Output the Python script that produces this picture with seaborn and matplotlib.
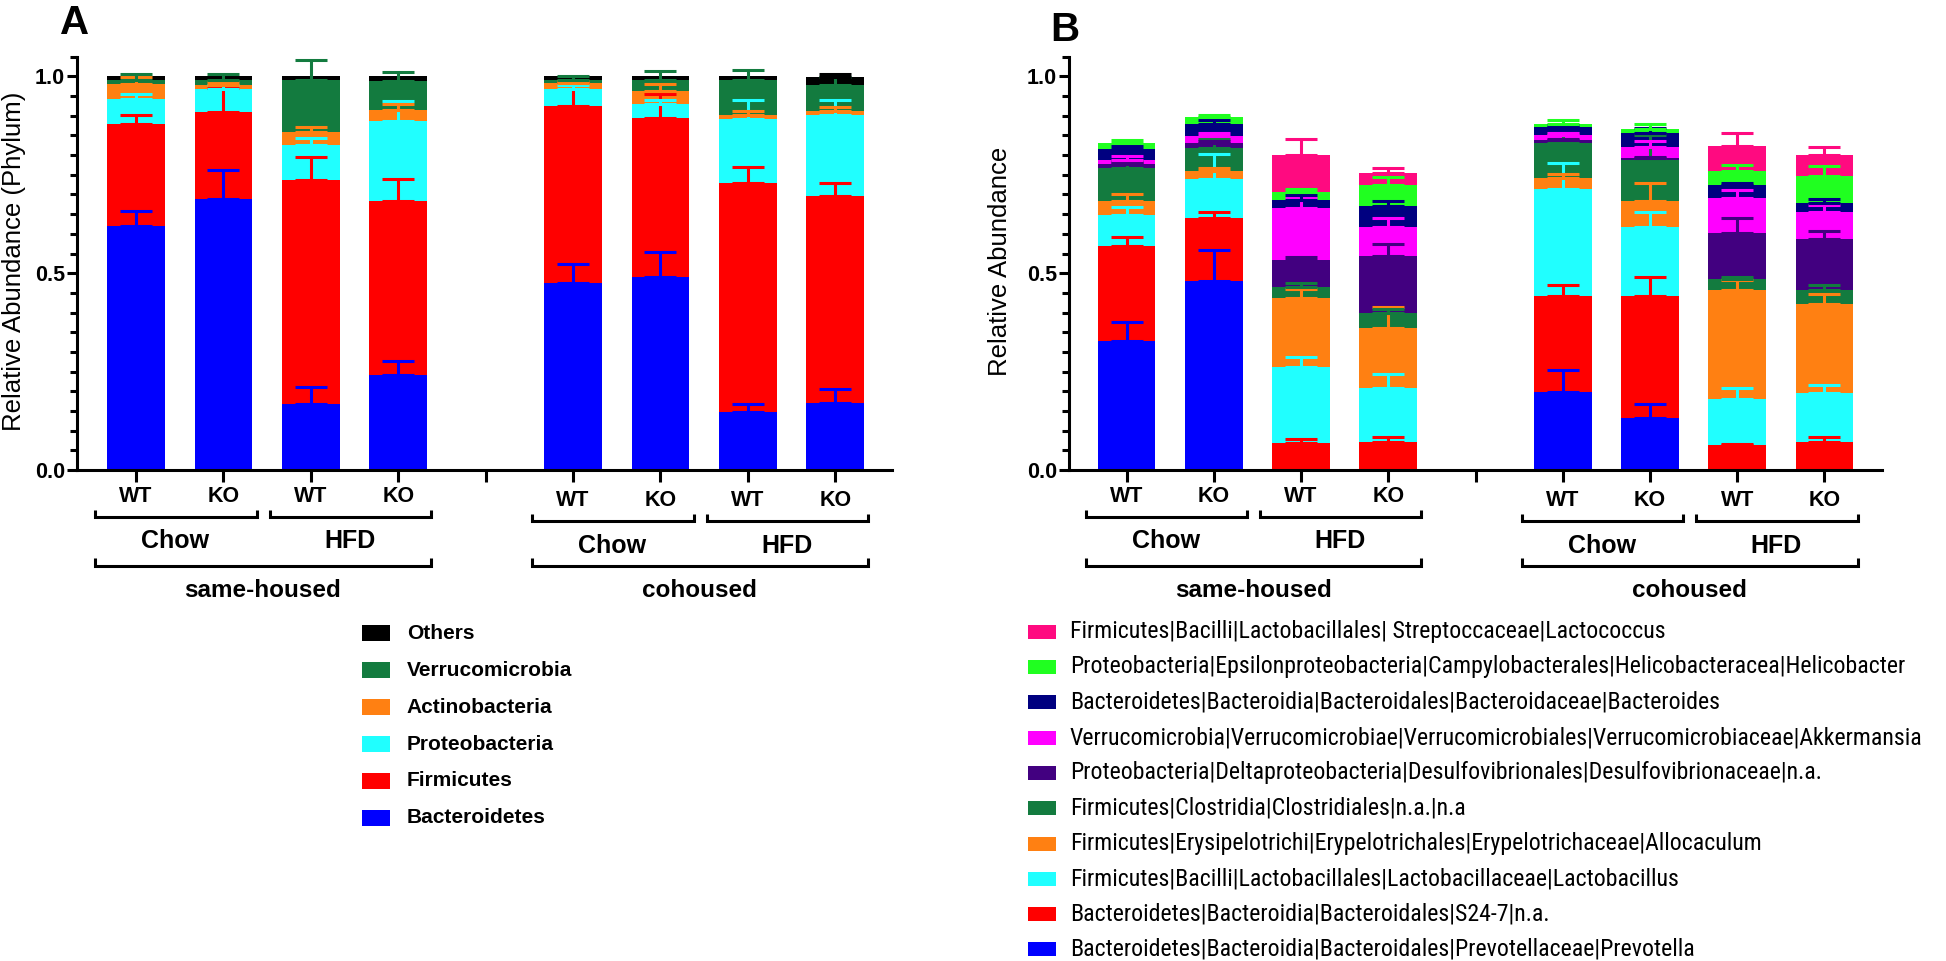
import numpy as np
import pandas as pd
import matplotlib
matplotlib.use("Agg")
import matplotlib.pyplot as plt
import seaborn as sns
from matplotlib.patches import Rectangle
from matplotlib.lines import Line2D
from matplotlib.ticker import MultipleLocator
from matplotlib import font_manager
from matplotlib.font_manager import FontProperties

# ---------------- data ----------------
bar_ids = ["sh_chow_wt", "sh_chow_ko", "sh_hfd_wt", "sh_hfd_ko",
           "co_chow_wt", "co_chow_ko", "co_hfd_wt", "co_hfd_ko"]
genotypes = ["WT", "KO", "WT", "KO", "WT", "KO", "WT", "KO"]
diets = ["Chow", "HFD", "Chow", "HFD"]
housing = ["same-housed", "cohoused"]

# Panel A (phylum), bottom -> top
phyla = ["Bacteroidetes", "Firmicutes", "Proteobacteria", "Actinobacteria",
         "Verrucomicrobia", "Others"]
phyla_colors = ["#0000FF", "#FF0000", "#20FFFF", "#FF8012", "#137B3F", "#000000"]
bacteroidetes = [0.621, 0.689, 0.168, 0.242, 0.475, 0.491, 0.148, 0.171]
firmicutes    = [0.257, 0.221, 0.568, 0.442, 0.451, 0.403, 0.581, 0.525]
proteobact    = [0.065, 0.057, 0.089, 0.202, 0.041, 0.037, 0.162, 0.206]
actinobact    = [0.037, 0.012, 0.033, 0.028, 0.015, 0.032, 0.011, 0.011]
verrucomic    = [0.012, 0.013, 0.134, 0.074, 0.010, 0.029, 0.088, 0.065]
others        = [0.008, 0.008, 0.008, 0.012, 0.008, 0.008, 0.010, 0.020]
bacteroidetes_err = [0.036, 0.073, 0.044, 0.036, 0.049, 0.064, 0.020, 0.035]
firmicutes_err    = [0.025, 0.061, 0.058, 0.056, 0.059, 0.061, 0.040, 0.033]
proteobact_err    = [0.013, 0.012, 0.019, 0.051, 0.010, 0.008, 0.050, 0.039]
actinobact_err    = [0.019, 0.006, 0.013, 0.016, 0.005, 0.017, 0.010, 0.008]
verrucomic_err    = [0.014, 0.014, 0.049, 0.023, 0.010, 0.021, 0.026, 0.021]
others_err        = [0.000, 0.000, 0.000, 0.000, 0.000, 0.000, 0.000, 0.008]

# Panel B (genus), bottom -> top
genera = ["Bacteroidetes|Bacteroidia|Bacteroidales|Prevotellaceae|Prevotella",
          "Bacteroidetes|Bacteroidia|Bacteroidales|S24-7|n.a.",
          "Firmicutes|Bacilli|Lactobacillales|Lactobacillaceae|Lactobacillus",
          "Firmicutes|Erysipelotrichi|Erypelotrichales|Erypelotrichaceae|Allocaculum",
          "Firmicutes|Clostridia|Clostridiales|n.a.|n.a",
          "Proteobacteria|Deltaproteobacteria|Desulfovibrionales|Desulfovibrionaceae|n.a.",
          "Verrucomicrobia|Verrucomicrobiae|Verrucomicrobiales|Verrucomicrobiaceae|Akkermansia",
          "Bacteroidetes|Bacteroidia|Bacteroidales|Bacteroidaceae|Bacteroides",
          "Proteobacteria|Epsilonproteobacteria|Campylobacterales|Helicobacteracea|Helicobacter",
          "Firmicutes|Bacilli|Lactobacillales| Streptoccaceae|Lactococcus"]
genera_colors = ["#0000FF", "#FF0000", "#20FFFF", "#FF8012", "#137B3F",
                 "#420080", "#FF00FF", "#000080", "#20FF20", "#FF0A80"]
prevotella    = [0.328, 0.480, 0.000, 0.000, 0.199, 0.131, 0.000, 0.000]
s24_7         = [0.241, 0.161, 0.068, 0.070, 0.243, 0.311, 0.063, 0.070]
lactobacillus = [0.078, 0.098, 0.193, 0.139, 0.273, 0.176, 0.117, 0.125]
allocaculum   = [0.036, 0.020, 0.176, 0.151, 0.028, 0.065, 0.277, 0.226]
clostridiales = [0.084, 0.060, 0.027, 0.040, 0.088, 0.104, 0.028, 0.036]
desulfovib    = [0.011, 0.012, 0.069, 0.144, 0.007, 0.005, 0.117, 0.129]
akkermansia   = [0.009, 0.017, 0.133, 0.074, 0.012, 0.029, 0.088, 0.069]
bacteroides   = [0.028, 0.032, 0.021, 0.053, 0.021, 0.035, 0.033, 0.024]
helicobacter  = [0.016, 0.017, 0.019, 0.052, 0.007, 0.011, 0.036, 0.068]
lactococcus   = [0.000, 0.000, 0.093, 0.032, 0.000, 0.000, 0.064, 0.052]
prevotella_err    = [0.049, 0.080, 0.000, 0.000, 0.055, 0.037, 0.000, 0.000]
s24_7_err         = [0.022, 0.015, 0.012, 0.015, 0.028, 0.049, 0.004, 0.013]
lactobacillus_err = [0.021, 0.065, 0.027, 0.036, 0.065, 0.037, 0.029, 0.021]
allocaculum_err   = [0.018, 0.008, 0.022, 0.054, 0.010, 0.045, 0.025, 0.025]
clostridiales_err = [0.017, 0.022, 0.010, 0.010, 0.025, 0.065, 0.005, 0.013]
desulfovib_err    = [0.005, 0.005, 0.008, 0.031, 0.004, 0.004, 0.037, 0.021]
akkermansia_err   = [0.010, 0.008, 0.025, 0.021, 0.006, 0.015, 0.021, 0.017]
bacteroides_err   = [0.008, 0.010, 0.012, 0.013, 0.005, 0.014, 0.006, 0.009]
helicobacter_err  = [0.007, 0.006, 0.008, 0.021, 0.012, 0.013, 0.017, 0.025]
lactococcus_err   = [0.000, 0.000, 0.043, 0.011, 0.000, 0.000, 0.033, 0.022]

A_vals = [bacteroidetes, firmicutes, proteobact, actinobact, verrucomic, others]
A_errs = [bacteroidetes_err, firmicutes_err, proteobact_err, actinobact_err,
          verrucomic_err, others_err]
B_vals = [prevotella, s24_7, lactobacillus, allocaculum, clostridiales,
          desulfovib, akkermansia, bacteroides, helicobacter, lactococcus]
B_errs = [prevotella_err, s24_7_err, lactobacillus_err, allocaculum_err,
          clostridiales_err, desulfovib_err, akkermansia_err, bacteroides_err,
          helicobacter_err, lactococcus_err]

# ---------------- style ----------------
sns.set_theme(style="ticks")
BASE = ["Liberation Sans", "DejaVu Sans"]
plt.rcParams["font.family"] = BASE
plt.rcParams["text.color"] = "black"
plt.rcParams["axes.edgecolor"] = "black"
plt.rcParams["xtick.color"] = "black"
plt.rcParams["ytick.color"] = "black"


def find_condensed_font():
    """Look for an installed narrow/condensed regular sans font."""
    prefs = ["liberation sans narrow", "arial narrow", "roboto condensed",
             "open sans condensed", "dejavu sans condensed", "noto sans condensed"]
    found = []
    for f in font_manager.fontManager.ttflist:
        name = f.name.lower()
        path = f.fname.lower()
        narrow = ("narrow" in name or "condensed" in name or "condensed" in path
                  or "narrow" in path)
        if not narrow:
            continue
        if f.style != "normal":
            continue
        if "bold" in path or (isinstance(f.weight, int) and f.weight >= 600) \
                or f.weight in ("bold", "semibold", "heavy", "black"):
            continue
        if "light" in path or "thin" in path:
            continue
        found.append(f)
    if not found:
        return None

    def rank(f):
        key = (f.name + " " + f.fname).lower()
        for k, p in enumerate(prefs):
            if all(w in key for w in p.split()):
                return k
        return len(prefs)
    found.sort(key=rank)
    return found[0].fname


cond_path = find_condensed_font()
NARROW_FP = FontProperties(fname=cond_path) if cond_path else FontProperties(family=BASE)

W, H = 1946, 961
fig = plt.figure(figsize=(W / 100, H / 100), dpi=100)
fig.patch.set_facecolor("white")

AX_TOP, AX_BOT = 56.7, 470.0


def px_axes(l, r):
    return fig.add_axes([l / W, 1 - AX_BOT / H, (r - l) / W, (AX_BOT - AX_TOP) / H])


axA = px_axes(77, 892)
axB = px_axes(1069, 1882)

order = bar_ids[:4] + ["gap"] + bar_ids[4:]
positions = [order.index(b) for b in bar_ids]
LW = 2.2


def draw_panel(ax, vals, errs, colors, xlim):
    vals = np.array(vals)
    errs = np.array(errs)
    cum = np.cumsum(vals, axis=0)
    # stacked bars: draw cumulative tops, top layer first
    for i in range(len(vals) - 1, -1, -1):
        df = pd.DataFrame({"bar": bar_ids, "top": cum[i]})
        sns.barplot(data=df, x="bar", y="top", order=order, color=colors[i],
                    saturation=1, width=0.66, errorbar=None, ax=ax,
                    linewidth=0, edgecolor="none")
    # upper-only error bars
    pos = np.array(positions)
    for i in range(len(vals)):
        m = (errs[i] > 0) & (vals[i] > 0)
        if not m.any():
            continue
        ax.errorbar(pos[m], cum[i][m], yerr=[np.zeros(m.sum()), errs[i][m]],
                    fmt="none", ecolor=colors[i], elinewidth=LW, capsize=11.5,
                    capthick=LW, zorder=5, clip_on=False)
    ax.set_xlim(*xlim)
    ax.set_ylim(0, 1.05)
    ax.set_xlabel("")
    ax.set_ylabel("")
    sns.despine(ax=ax)
    for s in ("left", "bottom"):
        ax.spines[s].set_linewidth(LW)
        ax.spines[s].set_color("black")
    ax.set_xticks(range(len(order)))
    ax.set_xticklabels([""] * len(order))
    ax.set_yticks([0, 0.5, 1.0])
    ax.set_yticklabels(["0.0", "0.5", "1.0"], fontsize=15.5, fontweight="bold")
    ax.yaxis.set_minor_locator(MultipleLocator(0.05))
    ax.tick_params(axis="x", which="major", length=8.6, width=LW, direction="out")
    ax.tick_params(axis="y", which="major", length=7.2, width=LW, pad=1.5)
    ax.tick_params(axis="y", which="minor", length=5, width=LW)
    ax.set_facecolor("white")
    ax.grid(False)

    # group labels and brackets below the axis
    ah = ax.get_position().height * H
    tr = ax.get_xaxis_transform()

    def yf(px):
        return -px / ah

    for k, (p, g) in enumerate(zip(positions, genotypes)):
        off = 26 if k < 4 else 31
        ax.text(p, yf(off), g, transform=tr, ha="center", va="center",
                fontsize=15.5, fontweight="bold", clip_on=False)

    def bracket(x0, x1, ypx, rise):
        ax.add_line(Line2D([x0, x0, x1, x1],
                           [yf(ypx - rise), yf(ypx), yf(ypx), yf(ypx - rise)],
                           transform=tr, color="black", lw=LW, clip_on=False,
                           solid_joinstyle="miter", solid_capstyle="butt"))

    for d in range(4):
        p0, p1 = positions[2 * d], positions[2 * d + 1]
        co = d >= 2
        bracket(p0 - 0.47, p1 + 0.38, 50.7 if co else 46.7, 6.5)
        ax.text((p0 + p1) / 2 - 0.05, yf(76.0 if co else 71.5), diets[d],
                transform=tr, ha="center", va="center", fontsize=18,
                fontweight="bold", clip_on=False)
    for h in range(2):
        p0, p1 = positions[4 * h], positions[4 * h + 3]
        bracket(p0 - 0.47, p1 + 0.38, 96.3, 8)
        ax.text((p0 + p1) / 2 - 0.05, yf(120.5), housing[h], transform=tr,
                ha="center", va="center", fontsize=17.5, fontweight="bold",
                clip_on=False)


draw_panel(axA, A_vals, A_errs, phyla_colors, (-0.676, 8.65))
draw_panel(axB, B_vals, B_errs, genera_colors, (-0.66, 8.66))

# axis titles
fig.text(14 / W, 1 - 261 / H, "Relative Abundance (Phylum)", rotation=90,
         ha="center", va="center", fontsize=18.5)
fig.text(1000 / W, 1 - 261 / H, "Relative Abundance", rotation=90,
         ha="center", va="center", fontsize=18.5)

# panel letters
fig.text(60 / W, 1 - 4 / H, "A", ha="left", va="top", fontsize=29,
         fontweight="bold")
fig.text(1050 / W, 1 - 11 / H, "B", ha="left", va="top", fontsize=29,
         fontweight="bold")


# legends (manual, in pixel layout)
def swatch(x0, x1, yc, h, color):
    fig.add_artist(Rectangle((x0 / W, 1 - (yc + h / 2) / H), (x1 - x0) / W, h / H,
                             transform=fig.transFigure, facecolor=color,
                             edgecolor="none"))


for j, i in enumerate(range(len(phyla) - 1, -1, -1)):
    yc = 633.3 + 36.9 * j
    swatch(362, 390, yc, 16, phyla_colors[i])
    fig.text(406.7 / W, 1 - yc / H, phyla[i], ha="left", va="center",
             fontsize=15, fontweight="bold")

legB_texts = []
for j, i in enumerate(range(len(genera) - 1, -1, -1)):
    yc = 631.7 + 35.3 * j
    swatch(1028, 1056, yc, 14, genera_colors[i])
    fp = NARROW_FP.copy()
    fp.set_size(15)
    t = fig.text(1070 / W, 1 - yc / H, genera[i], ha="left", va="center",
                 fontproperties=fp)
    legB_texts.append(t)

# fit widest legend line to the reference width (~871 px), cap the size
fig.canvas.draw()
r = fig.canvas.get_renderer()
widest = max(t.get_window_extent(r).width for t in legB_texts)
new_size = min(15 * 871.0 / widest, 17.2)
for t in legB_texts:
    t.set_fontsize(new_size)

fig.savefig("out.png", dpi=100, facecolor="white")
